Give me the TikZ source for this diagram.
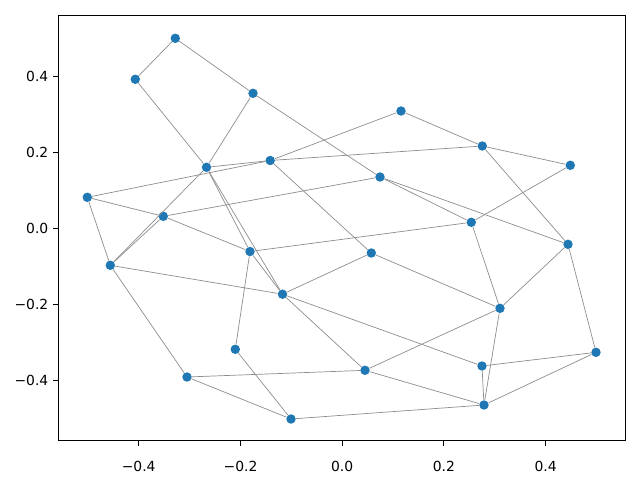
\documentclass[tikz,border=0pt]{standalone}
\usepackage{fontspec}
\setmainfont{DejaVu Sans}
\definecolor{mplblue}{HTML}{1F77B4}
\definecolor{edgegray}{RGB}{140,140,140}
\tikzset{
  vtx/.style={circle, fill=mplblue, inner sep=0pt, minimum size=6.8pt},
  edge/.style={draw=edgegray, line width=0.5pt},
  spine/.style={draw=black, line width=0.8pt},
  tickmark/.style={draw=black, line width=0.8pt},
  ticklab/.style={font=\fontsize{10}{12}\selectfont, inner sep=0pt}
}
\begin{document}
\begin{tikzpicture}[x=0.72pt, y=-0.72pt]
\useasboundingbox (0,0) rectangle (640,480);
% nodes
\node[vtx] (A) at (175.3, 38.3) {};
\node[vtx] (B) at (135.3, 79.3) {};
\node[vtx] (C) at (253.0, 93.3) {};
\node[vtx] (D) at (206.5, 167.3) {};
\node[vtx] (E) at (270.2, 160.5) {};
\node[vtx] (F) at (87.3, 197.3) {};
\node[vtx] (G) at (163.3, 216.3) {};
\node[vtx] (H) at (401.0, 111.0) {};
\node[vtx] (I) at (482.3, 146.0) {};
\node[vtx] (J) at (570.3, 165.3) {};
\node[vtx] (K) at (380.0, 177.0) {};
\node[vtx] (L) at (471.3, 222.3) {};
\node[vtx] (M) at (110.3, 265.3) {};
\node[vtx] (N) at (250.0, 251.5) {};
\node[vtx] (O) at (282.5, 294.2) {};
\node[vtx] (P) at (235.3, 349.3) {};
\node[vtx] (Q) at (187.0, 377.0) {};
\node[vtx] (R) at (291.0, 419.0) {};
\node[vtx] (S) at (371.3, 253.0) {};
\node[vtx] (T) at (568.0, 244.3) {};
\node[vtx] (U) at (500.0, 308.3) {};
\node[vtx] (V) at (596.0, 352.3) {};
\node[vtx] (W) at (482.0, 366.0) {};
\node[vtx] (X) at (365.0, 370.3) {};
\node[vtx] (Y) at (484.0, 405.0) {};
% edges
\foreach \a/\b in {A/B, A/C, B/D, C/D, C/K, D/E, F/E, E/H, E/I, E/S,
  D/M, D/N, D/O, N/O, F/G, F/M, G/M, G/N, G/K, M/O, M/Q, N/P, N/L,
  O/S, O/X, O/W, P/R, Q/R, Q/X, R/Y, H/I, I/J, I/T, J/L, K/L, K/T,
  L/U, S/U, T/U, T/V, U/X, U/Y, V/W, V/Y, W/Y, X/Y}
  \path[edge] (\a) -- (\b);
% axes frame
\node[draw=none, inner sep=0pt, minimum size=0pt] (frameNW) at (58.3,15.3) {};
\node[draw=none, inner sep=0pt, minimum size=0pt] (frameSE) at (625.3,440.6) {};
\draw[spine] (frameNW.center) rectangle (frameSE.center);
% x ticks
\foreach \xp/\lab in {138.7/{−0.4}, 240.5/{−0.2}, 342.2/{0.0}, 443.9/{0.2}, 545.7/{0.4}} {
  \draw[tickmark] (\xp,440.6) -- ++(0,4.9);
  \node[ticklab] at (\xp,466.5) {\lab};
}
% y ticks
\foreach \yp/\lab in {76.3/{0.4}, 152.3/{0.2}, 228.3/{0.0}, 304.3/{−0.2}, 380.3/{−0.4}} {
  \draw[tickmark] (58.3,\yp) -- ++(-4.9,0);
  \node[ticklab, anchor=east] at (48.6,\yp) {\lab};
}
\end{tikzpicture}
\end{document}
